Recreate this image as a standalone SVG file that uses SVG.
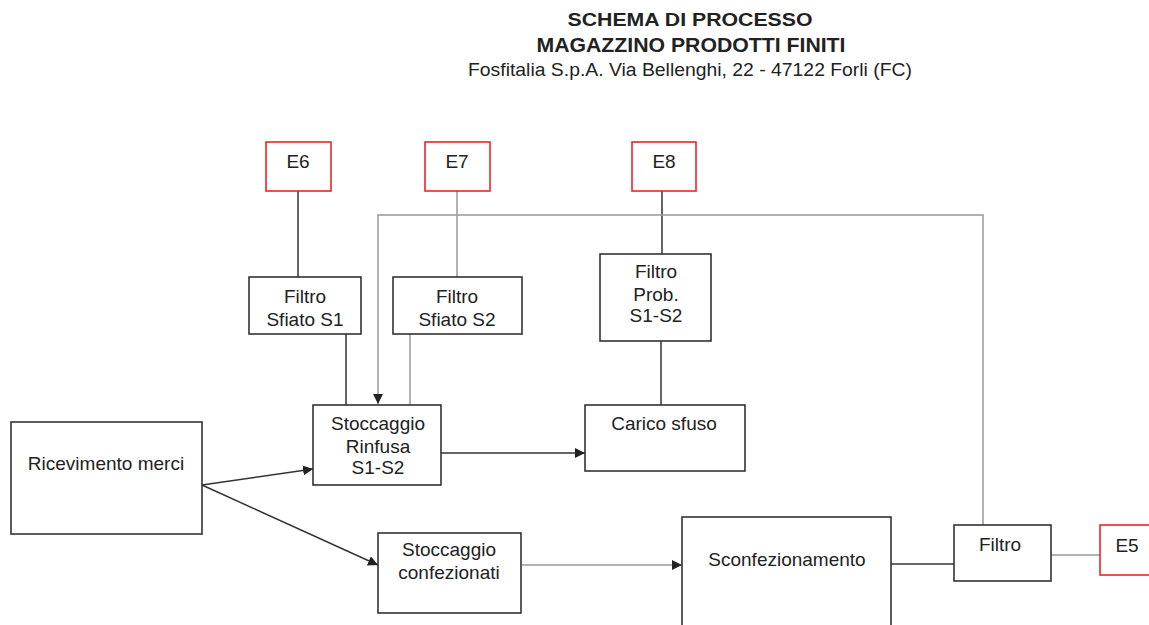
<svg xmlns="http://www.w3.org/2000/svg" width="1149" height="625" viewBox="0 0 1149 625">
<style>
text{font-family:"Liberation Sans",Arial,sans-serif;fill:#222;text-anchor:middle}
.t{font-size:19px}
.box{fill:#fff;stroke:#333;stroke-width:1.6}
.em{fill:#fff;stroke:#e8262c;stroke-width:1.6}
.dk{fill:none;stroke:#333;stroke-width:1.5}
.gr{fill:none;stroke:#999;stroke-width:1.5}
</style>
<defs>
<marker id="ah" viewBox="0 0 10 10" refX="10" refY="5" markerWidth="10" markerHeight="10" markerUnits="userSpaceOnUse" orient="auto">
<path d="M0,0 L10,5 L0,10 z" fill="#222"/>
</marker>
</defs>
<rect width="1149" height="625" fill="#fff"/>
<g id="title">
<text x="690" y="26" style="font-size:19px;font-weight:bold" textLength="245" lengthAdjust="spacingAndGlyphs">SCHEMA DI PROCESSO</text>
<text x="691" y="52" style="font-size:20px;font-weight:bold" textLength="309" lengthAdjust="spacingAndGlyphs">MAGAZZINO PRODOTTI FINITI</text>
<text x="690" y="76" style="font-size:19px" textLength="444" lengthAdjust="spacingAndGlyphs">Fosfitalia S.p.A. Via Bellenghi, 22 - 47122 Forli (FC)</text>
</g>
<g id="connectors">
<line class="dk" x1="298" y1="191" x2="298" y2="277"/>
<line class="gr" x1="457" y1="191" x2="457" y2="277"/>
<line class="dk" x1="662" y1="191" x2="662" y2="254"/>
<line class="dk" x1="661" y1="341" x2="661" y2="405"/>
<line class="dk" x1="346" y1="334" x2="346" y2="405"/>
<line class="gr" x1="410" y1="334" x2="410" y2="405"/>
<polyline class="gr" points="983,525 983,215 378,215 378,404" marker-end="url(#ah)"/>
<line class="dk" x1="202" y1="485" x2="313" y2="469" marker-end="url(#ah)"/>
<line class="dk" x1="202" y1="485" x2="378" y2="565" marker-end="url(#ah)"/>
<line class="dk" x1="441" y1="453" x2="585" y2="453" marker-end="url(#ah)"/>
<line class="gr" x1="522" y1="565" x2="682" y2="565" marker-end="url(#ah)"/>
<line class="dk" x1="891" y1="564" x2="954" y2="564"/>
<line class="gr" x1="1051" y1="555" x2="1100" y2="555"/>
</g>
<g id="E6"><rect class="em" x="266" y="142" width="65" height="49"/><text class="t" x="298" y="168">E6</text></g>
<g id="E7"><rect class="em" x="425" y="142" width="65" height="49"/><text class="t" x="457" y="168">E7</text></g>
<g id="E8"><rect class="em" x="632" y="142" width="64" height="49"/><text class="t" x="664" y="168">E8</text></g>
<g id="filtro-s1"><rect class="box" x="249" y="277" width="112" height="57"/><text class="t" x="305" y="303">Filtro</text><text class="t" x="305" y="326">Sfiato S1</text></g>
<g id="filtro-s2"><rect class="box" x="393" y="277" width="129" height="57"/><text class="t" x="457" y="303">Filtro</text><text class="t" x="457" y="326">Sfiato S2</text></g>
<g id="filtro-prob"><rect class="box" x="600" y="254" width="111" height="87"/><text class="t" x="656" y="278">Filtro</text><text class="t" x="656" y="301">Prob.</text><text class="t" x="656" y="322">S1-S2</text></g>
<g id="carico-sfuso"><rect class="box" x="585" y="405" width="160" height="66"/><text class="t" x="664" y="430">Carico sfuso</text></g>
<g id="stoccaggio-rinfusa"><rect class="box" x="313" y="405" width="128" height="80"/><text class="t" x="378" y="430">Stoccaggio</text><text class="t" x="378" y="453">Rinfusa</text><text class="t" x="378" y="474">S1-S2</text></g>
<g id="ricevimento"><rect class="box" x="11" y="422" width="191" height="112"/><text class="t" x="106" y="470">Ricevimento merci</text></g>
<g id="stoccaggio-confezionati"><rect class="box" x="378" y="533" width="143" height="80"/><text class="t" x="449" y="556">Stoccaggio</text><text class="t" x="449" y="579">confezionati</text></g>
<g id="sconfezionamento"><rect class="box" x="682" y="517" width="209" height="120"/><text class="t" x="787" y="566">Sconfezionamento</text></g>
<g id="filtro"><rect class="box" x="954" y="525" width="97" height="56"/><text class="t" x="1000" y="551">Filtro</text></g>
<g id="E5"><rect class="em" x="1100" y="525" width="60" height="50"/><text class="t" x="1127" y="552">E5</text></g>
</svg>
